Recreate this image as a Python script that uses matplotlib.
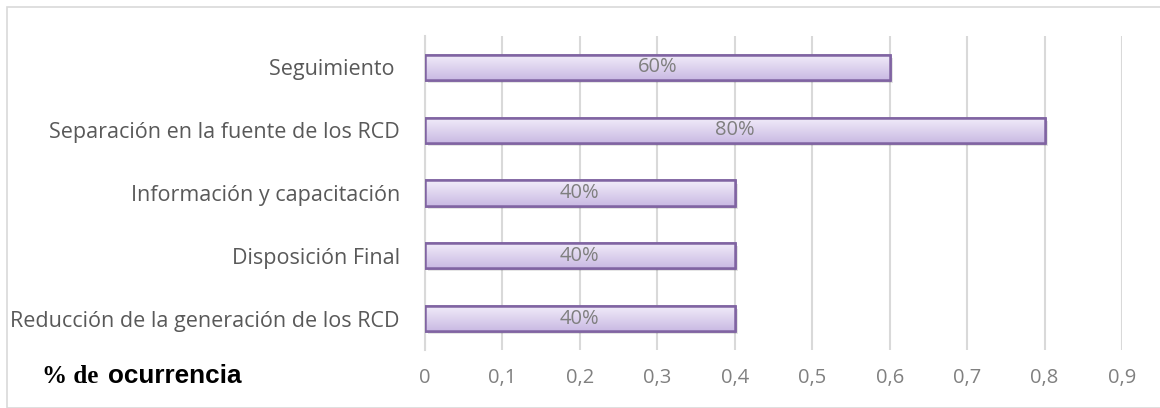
import numpy as np
import matplotlib.pyplot as plt
from matplotlib.patches import Rectangle
from matplotlib.ticker import FuncFormatter

categorias = ['Reducción de la generación de los RCD', 'Disposición Final',
              'Información y capacitación', 'Separación en la fuente de los RCD',
              'Seguimiento ']
valores = [0.4, 0.4, 0.4, 0.8, 0.6]
etiquetas = ['40%', '40%', '40%', '80%', '60%']
ticks_x = [0, 0.1, 0.2, 0.3, 0.4, 0.5, 0.6, 0.7, 0.8, 0.9]

plt.rcParams['font.family'] = ['Open Sans', 'DejaVu Sans']

fig = plt.figure(figsize=(11.6, 4.08), dpi=100)
# chart border
fig.patches.append(Rectangle((7 / 1160, 0), 1.2, 1 - 7 / 408, transform=fig.transFigure,
                             fill=False, edgecolor='#d9d9d9', linewidth=1.2))
ax = fig.add_axes([425 / 1160, 1 - 350 / 408, (1122 - 425) / 1160, (350 - 36) / 408])

y = np.arange(len(categorias))
h = 0.4

# shadow
ax.barh(y - 0.05, valores, height=h, left=0.004, color='#000000', alpha=0.10,
        linewidth=0, zorder=2)
bars = ax.barh(y, valores, height=h, color='#d9cfec', edgecolor='#8064a2',
               linewidth=1.8, zorder=3)

# vertical gradient inside each bar
grad = np.linspace(0, 1, 64).reshape(-1, 1)
top = np.array([0.95, 0.93, 0.98])
bot = np.array([0.79, 0.73, 0.89])
img = top + (bot - top) * grad[..., None]
for b in bars:
    x0, y0 = b.get_x(), b.get_y()
    im = ax.imshow(img, extent=[x0, x0 + b.get_width(), y0, y0 + b.get_height()],
                   aspect='auto', zorder=3.5)
    im.set_clip_path(b)
    ax.add_patch(Rectangle((x0, y0), b.get_width(), b.get_height(), fill=False,
                           edgecolor='#8064a2', linewidth=1.8, zorder=4))

for yi, v, t in zip(y, valores, etiquetas):
    ax.text(v / 2, yi, t, ha='center', va='center', color='#7f7f7f', fontsize=14.5,
            zorder=5)

ax.set_xlim(0, 0.9)
ax.set_ylim(-0.5, len(categorias) - 0.5)
ax.set_xticks(ticks_x)
ax.xaxis.set_major_formatter(FuncFormatter(lambda v, p: ('%g' % v).replace('.', ',')))
ax.set_yticks(y)
ax.set_yticklabels(categorias)
ax.tick_params(axis='both', length=0, labelsize=15.5, colors='#595959')
ax.tick_params(axis='x', pad=13, colors='#808080', labelsize=14.5)
ax.tick_params(axis='y', pad=18)
ax.grid(axis='x', color='#d9d9d9', linewidth=1.5, zorder=0)
ax.set_axisbelow(True)
for s in ['top', 'right', 'bottom']:
    ax.spines[s].set_visible(False)
ax.spines['left'].set_color('#d9d9d9')
ax.spines['left'].set_linewidth(1.5)

fig.text(42 / 1160, 1 - 383 / 408, '% de', family=['Liberation Serif'], weight='bold',
         fontsize=18, va='baseline', color='black')
fig.text(108 / 1160, 1 - 383 / 408, 'ocurrencia', family=['Liberation Sans'],
         weight='bold', fontsize=18.8, va='baseline', color='black')

fig.savefig('out.png', dpi=100)
